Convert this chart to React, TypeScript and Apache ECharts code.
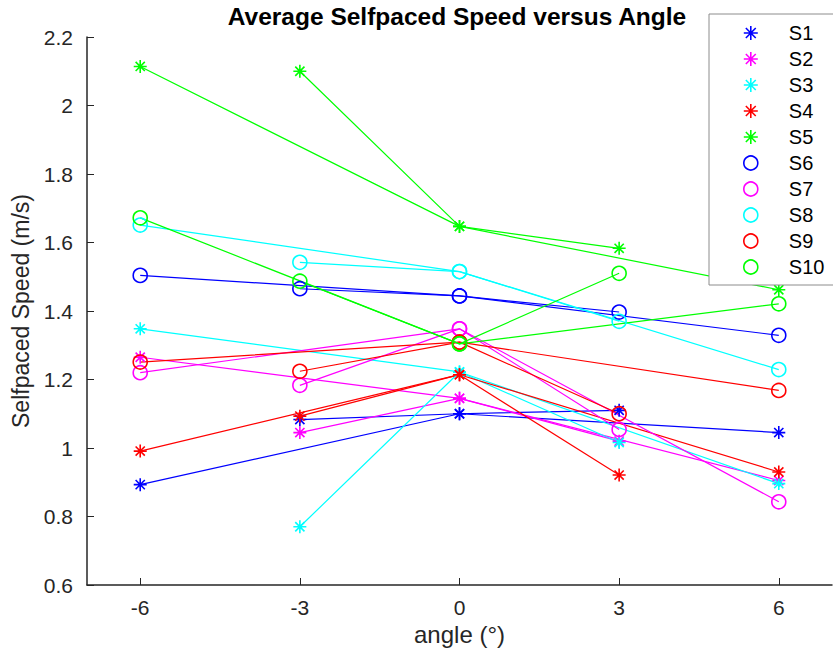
import React, { useEffect, useRef } from "react";
import * as echarts from "echarts";

const angles = [-6, -3, 0, 3, 6];
const xTicks = [-6, -3, 0, 3, 6];
const subjects = ["S1", "S2", "S3", "S4", "S5", "S6", "S7", "S8", "S9", "S10"];
const colors = ["#0000ff", "#ff00ff", "#00ffff", "#ff0000", "#00ff00", "#0000ff", "#ff00ff", "#00ffff", "#ff0000", "#00ff00"];
const markers = ["star", "star", "star", "star", "star", "circle", "circle", "circle", "circle", "circle"];

// speeds at angles -6, -3, 0, 3, 6
const s1 = [0.893, 1.083, 1.1, 1.11, 1.045];
const s2 = [1.265, 1.045, 1.145, 1.02, 0.905];
const s3 = [1.348, 0.77, 1.222, 1.016, 0.896];
const s4 = [0.991, 1.093, 1.214, 0.921, 0.93];
const s5 = [2.114, 2.1, 1.647, 1.583, 1.462];
const s6 = [1.504, 1.465, 1.444, 1.397, 1.329];
const s7 = [1.22, 1.183, 1.348, 1.054, 0.843];
const s8 = [1.651, 1.542, 1.515, 1.37, 1.229];
const s9 = [1.251, 1.224, 1.309, 1.1, 1.168];
const s10 = [1.672, 1.487, 1.304, 1.51, 1.421];
const speeds = [s1, s2, s3, s4, s5, s6, s7, s8, s9, s10];

const STAR = "path://M0,-10L0,10M-10,0L10,0M-7.07,-7.07L7.07,7.07M-7.07,7.07L7.07,-7.07";
const FONT = "'Liberation Sans', Arial, Helvetica, sans-serif";

export default function App() {
  const ref = useRef<HTMLDivElement>(null);
  useEffect(() => {
    if (!ref.current) return;
    const chart = echarts.init(ref.current, undefined, { renderer: "svg" });
    const series: any[] = [];
    subjects.forEach((name, i) => {
      const v = speeds[i];
      const isStar = markers[i] === "star";
      const pts = (idx: number[]) => idx.map((k) => [angles[k], v[k]]);
      // lines drawn -6 -> 0 -> 6 and -3 -> 0 -> 3
      [[0, 2, 4], [1, 2, 3]].forEach((idx) => {
        series.push({
          type: "line",
          name,
          data: pts(idx),
          symbol: isStar ? STAR : "circle",
          symbolSize: isStar ? 13 : 14,
          showAllSymbol: true,
          lineStyle: { color: colors[i], width: 1.2 },
          itemStyle: {
            color: "rgba(0,0,0,0)",
            borderColor: colors[i],
            borderWidth: 1.6,
          },
          emphasis: { disabled: true },
          z: 2,
        });
      });
    });

    chart.setOption({
      animation: false,
      backgroundColor: "#ffffff",
      textStyle: { fontFamily: FONT },
      title: {
        text: "Average Selfpaced Speed versus Angle",
        left: 457,
        top: 4,
        padding: 0,
        textAlign: "center",
        textStyle: { fontFamily: FONT, fontWeight: "bold", fontSize: 24.5, color: "#000" },
      },
      legend: {
        orient: "vertical",
        left: 709,
        top: 14,
        padding: [9, 14, 8, 34],
        itemWidth: 14,
        itemHeight: 14,
        itemGap: 6,
        backgroundColor: "#ffffff",
        borderColor: "#8c8c8c",
        borderWidth: 1,
        borderRadius: 0,
        z: 10,
        textStyle: { fontFamily: FONT, fontSize: 20, color: "#000", padding: [0, 0, 0, 26] },
        data: subjects.map((name, i) => ({
          name,
          icon: markers[i] === "star" ? STAR : "circle",
          itemStyle: { color: "rgba(0,0,0,0)", borderColor: colors[i], borderWidth: 1.6 },
        })),
      },
      grid: { left: 87, right: 1, top: 37, bottom: 71, containLabel: false },
      xAxis: {
        type: "value",
        min: -7,
        max: 7,
        name: "angle (°)",
        nameLocation: "middle",
        nameGap: 37,
        nameTextStyle: { fontFamily: FONT, fontSize: 24, color: "#262626" },
        axisLine: { onZero: false, lineStyle: { color: "#262626", width: 1.5 } },
        axisTick: { inside: true, length: 7, customValues: xTicks, lineStyle: { color: "#262626", width: 1 } },
        axisLabel: { customValues: xTicks, margin: 12, fontSize: 21, color: "#262626", fontFamily: FONT },
        splitLine: { show: false },
      },
      yAxis: {
        type: "value",
        min: 0.6,
        max: 2.2,
        interval: 0.2,
        name: "Selfpaced Speed (m/s)",
        nameLocation: "middle",
        nameGap: 49,
        nameTextStyle: { fontFamily: FONT, fontSize: 23, color: "#262626" },
        axisLine: { show: true, onZero: false, lineStyle: { color: "#262626", width: 1.5 } },
        axisTick: { show: true, inside: true, length: 7, lineStyle: { color: "#262626", width: 1 } },
        axisLabel: { margin: 14, fontSize: 21, color: "#262626", fontFamily: FONT },
        splitLine: { show: false },
      },
      series,
    });
    return () => chart.dispose();
  }, []);
  return (
    <div
      ref={ref}
      style={{ position: "fixed", left: 0, top: 0, width: 833, height: 656, background: "#fff" }}
    />
  );
}
